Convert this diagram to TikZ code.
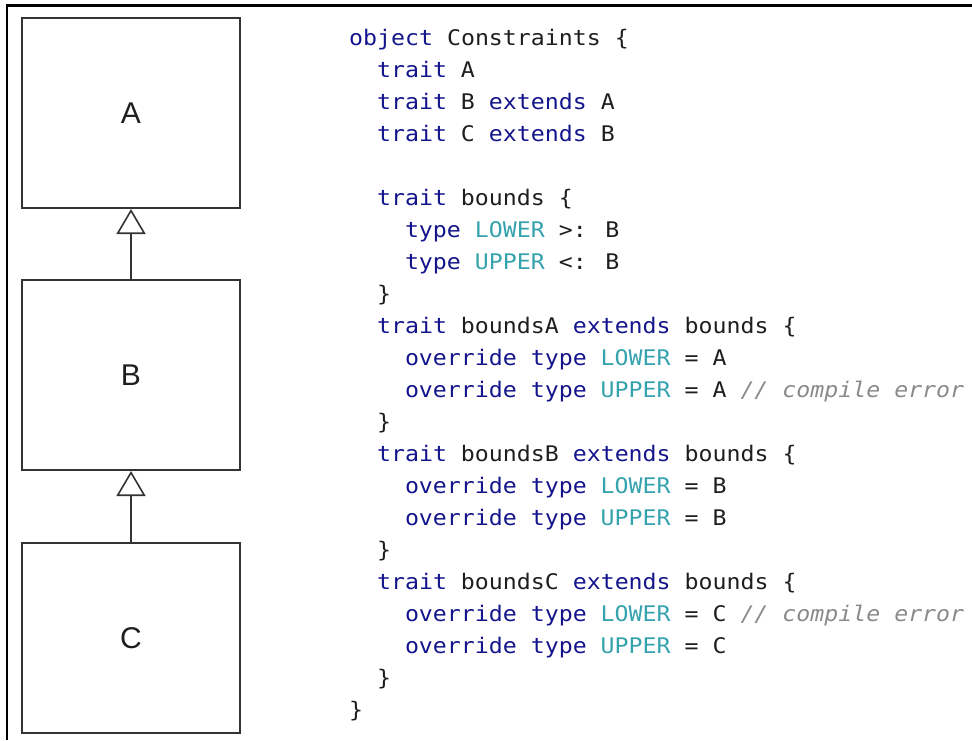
\documentclass[tikz,border=0pt]{standalone}
\usepackage{fontspec}
\setmainfont{Liberation Sans}
\newfontfamily\codefont[FakeStretch=1.08]{DejaVu Sans Mono}
\usetikzlibrary{arrows.meta}
\definecolor{kwc}{HTML}{14148C}
\definecolor{idc}{HTML}{1E1E1E}
\definecolor{tyc}{HTML}{34A3AD}
\definecolor{cmc}{HTML}{8A8A8A}
\definecolor{boxc}{HTML}{333333}
\newcommand{\kw}[1]{\textcolor{kwc}{#1}}
\newcommand{\ty}[1]{\textcolor{tyc}{#1}}
\newcommand{\cm}[1]{\textcolor{cmc}{\itshape #1}}
\begin{document}
\begin{tikzpicture}[x=1pt,y=-1pt,
  cls/.style={draw=boxc,line width=2pt,minimum width=218pt,minimum height=190pt,inner sep=0pt,font=\fontsize{30}{30}\selectfont,text=idc},
  inh/.style={draw=boxc,line width=2pt,-{Triangle[open,length=25pt,width=29pt,line width=1.6pt]}},
  code/.style={anchor=base west,inner sep=0pt,font=\codefont\fontsize{21.5}{21.5}\selectfont,text=idc}]
\useasboundingbox (0,0) rectangle (972,740);
% frame
\draw[line width=2.5pt,black] (7,740) -- (7,5.5) -- (972,5.5);
% class boxes
\node[cls] (A) at (131,113) {A};
\node[cls] (B) at (131,375) {B};
\node[cls] (C) at (131,638) {C};
\draw[inh] (B.north) -- (A.south);
\draw[inh] (C.north) -- (B.south);
% code
\def\cx{349}
\def\cw{13.95}
\node[code] (l1) at (\cx,45) {\kw{object} Constraints \{};
\node[code] (l2) at (\cx+2*\cw,77) {\kw{trait} A};
\node[code] (l3) at (\cx+2*\cw,109) {\kw{trait} B \kw{extends} A};
\node[code] (l4) at (\cx+2*\cw,141) {\kw{trait} C \kw{extends} B};
\node[code] (l6) at (\cx+2*\cw,205) {\kw{trait} bounds \{};
\node[code] (l7) at (\cx+4*\cw,237) {\kw{type} \ty{LOWER} >: B};
\node[code] (l8) at (\cx+4*\cw,269) {\kw{type} \ty{UPPER} <: B};
\node[code] (l9) at (\cx+2*\cw,301) {\}};
\node[code] (l10) at (\cx+2*\cw,333) {\kw{trait} boundsA \kw{extends} bounds \{};
\node[code] (l11) at (\cx+4*\cw,365) {\kw{override} \kw{type} \ty{LOWER} = A};
\node[code] (l12) at (\cx+4*\cw,397) {\kw{override} \kw{type} \ty{UPPER} = A \cm{// compile error}};
\node[code] (l13) at (\cx+2*\cw,429) {\}};
\node[code] (l14) at (\cx+2*\cw,461) {\kw{trait} boundsB \kw{extends} bounds \{};
\node[code] (l15) at (\cx+4*\cw,493) {\kw{override} \kw{type} \ty{LOWER} = B};
\node[code] (l16) at (\cx+4*\cw,525) {\kw{override} \kw{type} \ty{UPPER} = B};
\node[code] (l17) at (\cx+2*\cw,557) {\}};
\node[code] (l18) at (\cx+2*\cw,589) {\kw{trait} boundsC \kw{extends} bounds \{};
\node[code] (l19) at (\cx+4*\cw,621) {\kw{override} \kw{type} \ty{LOWER} = C \cm{// compile error}};
\node[code] (l20) at (\cx+4*\cw,653) {\kw{override} \kw{type} \ty{UPPER} = C};
\node[code] (l21) at (\cx+2*\cw,685) {\}};
\node[code] (l22) at (\cx,717) {\}};
\end{tikzpicture}
\end{document}
